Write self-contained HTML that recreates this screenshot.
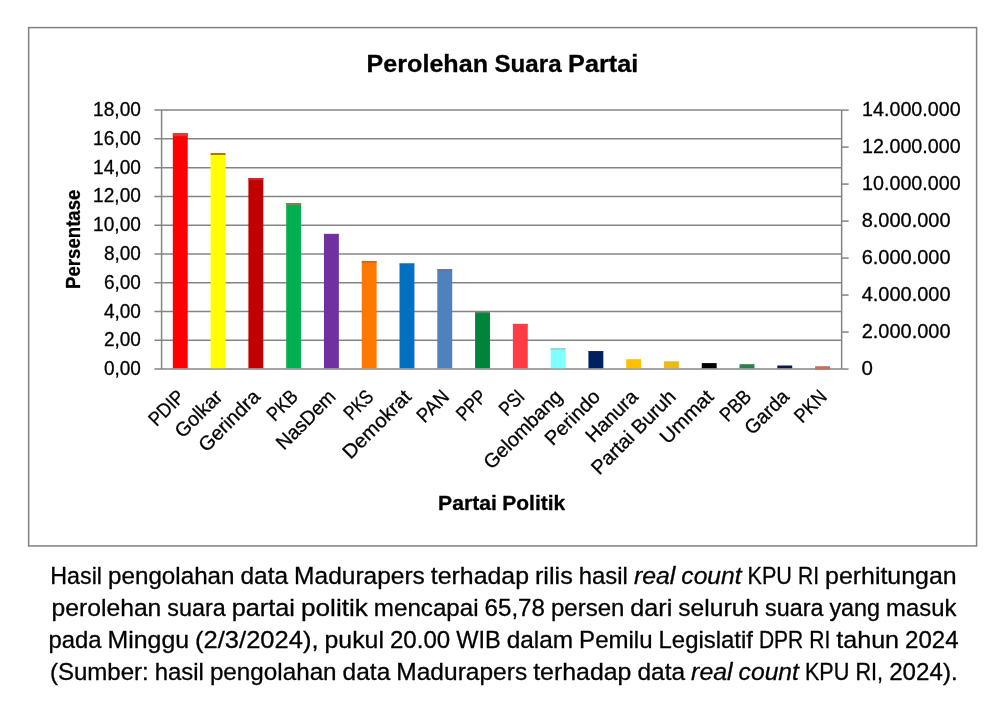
<!DOCTYPE html>
<html lang="id"><head><meta charset="utf-8"><title>Perolehan Suara Partai</title>
<style>html,body{margin:0;padding:0;background:#fff}body{width:1001px;height:701px;overflow:hidden}svg{display:block}text{font-family:"Liberation Sans", sans-serif;fill:#000}</style></head><body>
<svg width="1001" height="701" viewBox="0 0 1001 701">
<rect x="0" y="0" width="1001" height="701" fill="#fff"/>
<rect x="28.65" y="27.6" width="947.95" height="518.35" fill="none" stroke="#808080" stroke-width="1.5"/>
<g stroke="#848484" stroke-width="1.5" fill="none"><line x1="154.4" y1="110.10" x2="841.65" y2="110.10"/><line x1="154.4" y1="138.87" x2="841.65" y2="138.87"/><line x1="154.4" y1="167.64" x2="841.65" y2="167.64"/><line x1="154.4" y1="196.42" x2="841.65" y2="196.42"/><line x1="154.4" y1="225.19" x2="841.65" y2="225.19"/><line x1="154.4" y1="253.96" x2="841.65" y2="253.96"/><line x1="154.4" y1="282.73" x2="841.65" y2="282.73"/><line x1="154.4" y1="311.51" x2="841.65" y2="311.51"/><line x1="154.4" y1="340.28" x2="841.65" y2="340.28"/><line x1="154.4" y1="369.05" x2="841.65" y2="369.05"/><line x1="841.65" y1="110.10" x2="848.6" y2="110.10"/><line x1="841.65" y1="147.09" x2="848.6" y2="147.09"/><line x1="841.65" y1="184.09" x2="848.6" y2="184.09"/><line x1="841.65" y1="221.08" x2="848.6" y2="221.08"/><line x1="841.65" y1="258.07" x2="848.6" y2="258.07"/><line x1="841.65" y1="295.06" x2="848.6" y2="295.06"/><line x1="841.65" y1="332.06" x2="848.6" y2="332.06"/><line x1="841.65" y1="369.05" x2="848.6" y2="369.05"/><line x1="161.60" y1="110.10" x2="161.60" y2="369.05"/><line x1="841.65" y1="110.10" x2="841.65" y2="369.05"/></g>
<g><rect x="172.84" y="133.20" width="14.90" height="235.00" fill="#FF0000"/><rect x="172.84" y="133.20" width="14.90" height="3.00" fill="#DE3A3A"/><rect x="210.62" y="153.10" width="14.90" height="215.10" fill="#FFFF00"/><rect x="210.62" y="153.10" width="14.90" height="1.80" fill="#A86428"/><rect x="248.40" y="178.20" width="14.90" height="190.00" fill="#C00000"/><rect x="248.40" y="178.20" width="14.90" height="2.00" fill="#C42A28"/><rect x="286.18" y="203.20" width="14.90" height="165.00" fill="#00B050"/><rect x="286.18" y="203.20" width="14.90" height="2.00" fill="#8C7A4A"/><rect x="323.96" y="233.90" width="14.90" height="134.30" fill="#7030A0"/><rect x="323.96" y="233.90" width="14.90" height="1.00" fill="#7A3A90"/><rect x="361.74" y="261.10" width="14.90" height="107.10" fill="#FF7800"/><rect x="361.74" y="261.10" width="14.90" height="1.50" fill="#D05A30"/><rect x="399.52" y="263.50" width="14.90" height="104.70" fill="#0070C0"/><rect x="399.52" y="263.50" width="14.90" height="1.00" fill="#2A68A8"/><rect x="437.30" y="269.20" width="14.90" height="99.00" fill="#4F81BD"/><rect x="437.30" y="269.20" width="14.90" height="1.20" fill="#7A6A90"/><rect x="475.08" y="312.40" width="14.90" height="55.80" fill="#00843C"/><rect x="475.08" y="312.40" width="14.90" height="1.00" fill="#4A7A40"/><rect x="512.87" y="323.90" width="14.90" height="44.30" fill="#FF3B44"/><rect x="512.87" y="323.90" width="14.90" height="1.00" fill="#E8484A"/><rect x="550.65" y="348.40" width="14.90" height="19.80" fill="#80FFFF"/><rect x="550.65" y="348.40" width="14.90" height="1.00" fill="#9AB0B0"/><rect x="588.43" y="351.20" width="14.90" height="17.00" fill="#002060"/><rect x="588.43" y="351.20" width="14.90" height="1.00" fill="#301848"/><rect x="626.21" y="359.20" width="14.90" height="9.00" fill="#FFC000"/><rect x="663.99" y="361.30" width="14.90" height="6.90" fill="#EDB81E"/><rect x="701.77" y="363.10" width="14.90" height="5.10" fill="#000000"/><rect x="739.55" y="364.20" width="14.90" height="4.00" fill="#2E7D4F"/><rect x="777.33" y="365.50" width="14.90" height="2.70" fill="#0A1A40"/><rect x="815.11" y="366.20" width="14.90" height="3.45" fill="#C87060"/></g>
<g opacity="0.999" stroke="#000" stroke-width="0.3" stroke-linejoin="round">
<text y="71.5" font-size="24.5" font-weight="bold"><tspan x="366.60" textLength="121.41" lengthAdjust="spacingAndGlyphs">Perolehan</tspan> <tspan x="494.52" textLength="67.11" lengthAdjust="spacingAndGlyphs">Suara</tspan> <tspan x="568.14" textLength="70.21" lengthAdjust="spacingAndGlyphs">Partai</tspan></text>
<g><text x="93.10" y="116.10" font-size="19.5" textLength="47.8" lengthAdjust="spacingAndGlyphs">18,00</text><text x="93.10" y="144.87" font-size="19.5" textLength="47.8" lengthAdjust="spacingAndGlyphs">16,00</text><text x="93.10" y="173.64" font-size="19.5" textLength="47.8" lengthAdjust="spacingAndGlyphs">14,00</text><text x="93.10" y="202.42" font-size="19.5" textLength="47.8" lengthAdjust="spacingAndGlyphs">12,00</text><text x="93.10" y="231.19" font-size="19.5" textLength="47.8" lengthAdjust="spacingAndGlyphs">10,00</text><text x="103.90" y="259.96" font-size="19.5" textLength="37.0" lengthAdjust="spacingAndGlyphs">8,00</text><text x="103.90" y="288.73" font-size="19.5" textLength="37.0" lengthAdjust="spacingAndGlyphs">6,00</text><text x="103.90" y="317.51" font-size="19.5" textLength="37.0" lengthAdjust="spacingAndGlyphs">4,00</text><text x="103.90" y="346.28" font-size="19.5" textLength="37.0" lengthAdjust="spacingAndGlyphs">2,00</text><text x="103.90" y="375.05" font-size="19.5" textLength="37.0" lengthAdjust="spacingAndGlyphs">0,00</text></g>
<g><text x="862.00" y="116.10" font-size="19.5" textLength="98.70" lengthAdjust="spacingAndGlyphs">14.000.000</text><text x="862.00" y="153.09" font-size="19.5" textLength="98.70" lengthAdjust="spacingAndGlyphs">12.000.000</text><text x="862.00" y="190.09" font-size="19.5" textLength="98.70" lengthAdjust="spacingAndGlyphs">10.000.000</text><text x="861.70" y="227.08" font-size="19.5" textLength="88.90" lengthAdjust="spacingAndGlyphs">8.000.000</text><text x="861.70" y="264.07" font-size="19.5" textLength="88.90" lengthAdjust="spacingAndGlyphs">6.000.000</text><text x="861.70" y="301.06" font-size="19.5" textLength="88.90" lengthAdjust="spacingAndGlyphs">4.000.000</text><text x="861.70" y="338.06" font-size="19.5" textLength="88.90" lengthAdjust="spacingAndGlyphs">2.000.000</text><text x="861.60" y="375.05" font-size="19.5" textLength="11.40" lengthAdjust="spacingAndGlyphs">0</text></g>
<text transform="translate(79.95,239.3) rotate(-90)" text-anchor="middle" font-size="19.6" font-weight="bold" textLength="99.4" lengthAdjust="spacingAndGlyphs">Persentase</text>
<text y="509.6" font-size="19.9" font-weight="bold"><tspan x="438.10" textLength="58.75" lengthAdjust="spacingAndGlyphs">Partai</tspan> <tspan x="502.31" textLength="62.91" lengthAdjust="spacingAndGlyphs">Politik</tspan></text>
<g><text transform="translate(185.79,398.00) rotate(-45)" x="-41.44" y="0" font-size="19.9" textLength="41.44" lengthAdjust="spacingAndGlyphs">PDIP</text><text transform="translate(223.57,398.00) rotate(-45)" x="-57.83" y="0" font-size="19.9" textLength="57.83" lengthAdjust="spacingAndGlyphs">Golkar</text><text transform="translate(261.35,398.00) rotate(-45)" x="-77.70" y="0" font-size="19.9" textLength="77.70" lengthAdjust="spacingAndGlyphs">Gerindra</text><text transform="translate(299.13,398.00) rotate(-45)" x="-34.44" y="0" font-size="19.9" textLength="34.44" lengthAdjust="spacingAndGlyphs">PKB</text><text transform="translate(336.91,398.00) rotate(-45)" x="-74.72" y="0" font-size="19.9" textLength="74.72" lengthAdjust="spacingAndGlyphs">NasDem</text><text transform="translate(374.69,398.00) rotate(-45)" x="-32.42" y="0" font-size="19.9" textLength="32.42" lengthAdjust="spacingAndGlyphs">PKS</text><text transform="translate(412.47,398.00) rotate(-45)" x="-87.77" y="0" font-size="19.9" textLength="87.77" lengthAdjust="spacingAndGlyphs">Demokrat</text><text transform="translate(450.25,398.00) rotate(-45)" x="-36.34" y="0" font-size="19.9" textLength="36.34" lengthAdjust="spacingAndGlyphs">PAN</text><text transform="translate(488.03,398.00) rotate(-45)" x="-33.79" y="0" font-size="19.9" textLength="33.79" lengthAdjust="spacingAndGlyphs">PPP</text><text transform="translate(525.82,398.00) rotate(-45)" x="-26.78" y="0" font-size="19.9" textLength="26.78" lengthAdjust="spacingAndGlyphs">PSI</text><text transform="translate(563.60,398.00) rotate(-45)" x="-102.12" y="0" font-size="19.9" textLength="102.12" lengthAdjust="spacingAndGlyphs">Gelombang</text><text transform="translate(601.38,398.00) rotate(-45)" x="-68.68" y="0" font-size="19.9" textLength="68.68" lengthAdjust="spacingAndGlyphs">Perindo</text><text transform="translate(639.16,398.00) rotate(-45)" x="-64.53" y="0" font-size="19.9" textLength="64.53" lengthAdjust="spacingAndGlyphs">Hanura</text><text transform="translate(676.94,398.00) rotate(-45)" x="-110.06" y="0" font-size="19.9" textLength="110.06" lengthAdjust="spacingAndGlyphs">Partai Buruh</text><text transform="translate(714.72,398.00) rotate(-45)" x="-66.35" y="0" font-size="19.9" textLength="66.35" lengthAdjust="spacingAndGlyphs">Ummat</text><text transform="translate(752.50,398.00) rotate(-45)" x="-34.98" y="0" font-size="19.9" textLength="34.98" lengthAdjust="spacingAndGlyphs">PBB</text><text transform="translate(790.28,398.00) rotate(-45)" x="-53.40" y="0" font-size="19.9" textLength="53.40" lengthAdjust="spacingAndGlyphs">Garda</text><text transform="translate(828.06,398.00) rotate(-45)" x="-36.67" y="0" font-size="19.9" textLength="36.67" lengthAdjust="spacingAndGlyphs">PKN</text></g>
<text y="584.00" font-size="23.7"><tspan x="50.30" textLength="51.71" lengthAdjust="spacingAndGlyphs">Hasil</tspan> <tspan x="108.00" textLength="126.53" lengthAdjust="spacingAndGlyphs">pengolahan</tspan> <tspan x="240.53" textLength="47.59" lengthAdjust="spacingAndGlyphs">data</tspan> <tspan x="294.12" textLength="130.76" lengthAdjust="spacingAndGlyphs">Madurapers</tspan> <tspan x="430.87" textLength="98.11" lengthAdjust="spacingAndGlyphs">terhadap</tspan> <tspan x="534.97" textLength="37.83" lengthAdjust="spacingAndGlyphs">rilis</tspan> <tspan x="578.80" textLength="49.11" lengthAdjust="spacingAndGlyphs">hasil</tspan> <tspan x="633.91" textLength="41.42" lengthAdjust="spacingAndGlyphs" font-style="italic">real</tspan> <tspan x="681.33" textLength="60.24" lengthAdjust="spacingAndGlyphs" font-style="italic">count</tspan> <tspan x="747.56" textLength="44.44" lengthAdjust="spacingAndGlyphs">KPU</tspan> <tspan x="798.00" textLength="21.06" lengthAdjust="spacingAndGlyphs">RI</tspan> <tspan x="825.06" textLength="131.59" lengthAdjust="spacingAndGlyphs">perhitungan</tspan></text>
<text y="616.10" font-size="23.7"><tspan x="51.60" textLength="109.75" lengthAdjust="spacingAndGlyphs">perolehan</tspan> <tspan x="167.36" textLength="58.40" lengthAdjust="spacingAndGlyphs">suara</tspan> <tspan x="231.76" textLength="63.21" lengthAdjust="spacingAndGlyphs">partai</tspan> <tspan x="300.97" textLength="66.91" lengthAdjust="spacingAndGlyphs">politik</tspan> <tspan x="373.88" textLength="104.70" lengthAdjust="spacingAndGlyphs">mencapai</tspan> <tspan x="484.59" textLength="60.37" lengthAdjust="spacingAndGlyphs">65,78</tspan> <tspan x="550.96" textLength="73.40" lengthAdjust="spacingAndGlyphs">persen</tspan> <tspan x="630.36" textLength="41.97" lengthAdjust="spacingAndGlyphs">dari</tspan> <tspan x="678.33" textLength="80.67" lengthAdjust="spacingAndGlyphs">seluruh</tspan> <tspan x="765.01" textLength="58.40" lengthAdjust="spacingAndGlyphs">suara</tspan> <tspan x="829.41" textLength="50.71" lengthAdjust="spacingAndGlyphs">yang</tspan> <tspan x="886.13" textLength="70.23" lengthAdjust="spacingAndGlyphs">masuk</tspan></text>
<text y="648.20" font-size="23.7"><tspan x="48.40" textLength="53.10" lengthAdjust="spacingAndGlyphs">pada</tspan> <tspan x="107.49" textLength="81.59" lengthAdjust="spacingAndGlyphs">Minggu</tspan> <tspan x="195.07" textLength="123.45" lengthAdjust="spacingAndGlyphs">(2/3/2024),</tspan> <tspan x="324.51" textLength="59.42" lengthAdjust="spacingAndGlyphs">pukul</tspan> <tspan x="389.91" textLength="60.28" lengthAdjust="spacingAndGlyphs">20.00</tspan> <tspan x="456.18" textLength="44.57" lengthAdjust="spacingAndGlyphs">WIB</tspan> <tspan x="506.74" textLength="66.41" lengthAdjust="spacingAndGlyphs">dalam</tspan> <tspan x="579.13" textLength="73.43" lengthAdjust="spacingAndGlyphs">Pemilu</tspan> <tspan x="658.55" textLength="94.41" lengthAdjust="spacingAndGlyphs">Legislatif</tspan> <tspan x="758.94" textLength="44.29" lengthAdjust="spacingAndGlyphs">DPR</tspan> <tspan x="809.22" textLength="21.03" lengthAdjust="spacingAndGlyphs">RI</tspan> <tspan x="836.23" textLength="62.88" lengthAdjust="spacingAndGlyphs">tahun</tspan> <tspan x="905.09" textLength="53.60" lengthAdjust="spacingAndGlyphs">2024</tspan></text>
<text y="680.30" font-size="23.7"><tspan x="49.90" textLength="98.81" lengthAdjust="spacingAndGlyphs">(Sumber:</tspan> <tspan x="154.71" textLength="49.18" lengthAdjust="spacingAndGlyphs">hasil</tspan> <tspan x="209.90" textLength="126.70" lengthAdjust="spacingAndGlyphs">pengolahan</tspan> <tspan x="342.61" textLength="47.66" lengthAdjust="spacingAndGlyphs">data</tspan> <tspan x="396.27" textLength="130.94" lengthAdjust="spacingAndGlyphs">Madurapers</tspan> <tspan x="533.21" textLength="98.24" lengthAdjust="spacingAndGlyphs">terhadap</tspan> <tspan x="637.46" textLength="47.66" lengthAdjust="spacingAndGlyphs">data</tspan> <tspan x="691.12" textLength="41.48" lengthAdjust="spacingAndGlyphs" font-style="italic">real</tspan> <tspan x="738.60" textLength="60.33" lengthAdjust="spacingAndGlyphs" font-style="italic">count</tspan> <tspan x="804.94" textLength="44.50" lengthAdjust="spacingAndGlyphs">KPU</tspan> <tspan x="855.45" textLength="27.71" lengthAdjust="spacingAndGlyphs">RI,</tspan> <tspan x="889.16" textLength="68.50" lengthAdjust="spacingAndGlyphs">2024).</tspan></text>
</g>
</svg></body></html>
